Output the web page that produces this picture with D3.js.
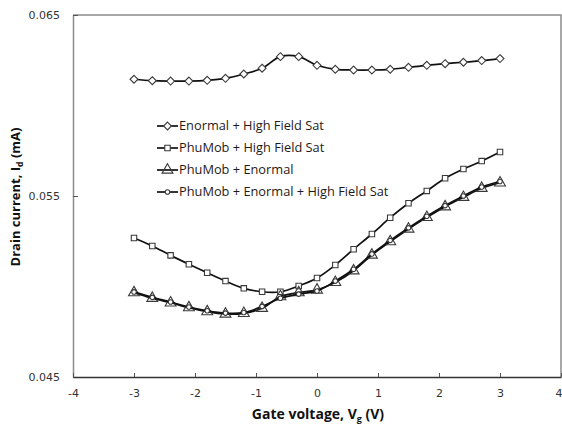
<!DOCTYPE html>
<html>
<head>
<meta charset="utf-8">
<script src="https://cdn.jsdelivr.net/npm/d3@7"></script>
<style>
  html, body { margin: 0; padding: 0; background: #fff; }
  svg { display: block; }
</style>
</head>
<body>
<svg id="chart" width="562" height="428"></svg>
<script>
// Gate voltage sweep (V)
const gateVoltage = [-3, -2.7, -2.4, -2.1, -1.8, -1.5, -1.2, -0.9, -0.6, -0.3, 0,
                     0.3, 0.6, 0.9, 1.2, 1.5, 1.8, 2.1, 2.4, 2.7, 3];

// Drain current (mA) for each mobility model combination
const enormalHighField = [0.06145, 0.06137, 0.06135, 0.06135, 0.06139, 0.06150, 0.06174,
                          0.06206, 0.06270, 0.06270, 0.06222, 0.06200, 0.06196, 0.06196,
                          0.06200, 0.06211, 0.06222, 0.06231, 0.06239, 0.06248, 0.06259];
const phuMobHighField = [0.05268, 0.05224, 0.05172, 0.05123, 0.05076, 0.05030, 0.04990,
                         0.04971, 0.04971, 0.05003, 0.05047, 0.05119, 0.05206, 0.05290,
                         0.05380, 0.05460, 0.05528, 0.05598, 0.05649, 0.05693, 0.05743];
const phuMobEnormal = [0.04966, 0.04935, 0.04910, 0.04883, 0.04861, 0.04848, 0.04852,
                       0.04880, 0.04944, 0.04966, 0.04981, 0.05023, 0.05087, 0.05174,
                       0.05248, 0.05318, 0.05382, 0.05441, 0.05493, 0.05543, 0.05573];
const phuMobEnormalHighField = [0.04970, 0.04940, 0.04914, 0.04887, 0.04866, 0.04853, 0.04856,
                                0.04890, 0.04935, 0.04958, 0.04975, 0.05030, 0.05095, 0.05180,
                                0.05255, 0.05324, 0.05388, 0.05447, 0.05500, 0.05550, 0.05580];

const seriesNames = ["Enormal + High Field Sat", "PhuMob + High Field Sat",
                     "PhuMob + Enormal", "PhuMob + Enormal + High Field Sat"];
const xTicks = [-4, -3, -2, -1, 0, 1, 2, 3, 4];
const yTicks = [0.045, 0.055, 0.065];

const series = [
  { name: seriesNames[0], values: enormalHighField, marker: "diamond" },
  { name: seriesNames[1], values: phuMobHighField, marker: "square" },
  { name: seriesNames[2], values: phuMobEnormal, marker: "triangle" },
  { name: seriesNames[3], values: phuMobEnormalHighField, marker: "circle" }
];

const svg = d3.select("#chart");
const plot = { left: 73, right: 561, top: 15, bottom: 377 };

const x = d3.scaleLinear().domain([-4, 4]).range([plot.left, plot.right]);
const y = d3.scaleLinear().domain([0.045, 0.065]).range([plot.bottom, plot.top]);

// Plot frame (top and right edges)
svg.append("path")
  .attr("d", `M${plot.left},${plot.top}H${plot.right}V${plot.bottom}`)
  .attr("fill", "none").attr("stroke", "#8c8c8c").attr("stroke-width", 1.5);

// Y axis
const yAxis = svg.append("g").attr("transform", `translate(${plot.left},0)`)
  .call(d3.axisLeft(y).tickValues(yTicks).tickFormat(d3.format(".3f")).tickSizeInner(-5).tickSizeOuter(0).tickPadding(13));
yAxis.select(".domain").attr("stroke", "#8c8c8c").attr("stroke-width", 1.5);
yAxis.selectAll(".tick line").attr("stroke", "#555");
yAxis.selectAll("text").attr("font-family", "DejaVu Sans").attr("font-size", 11).attr("fill", "#333");

// X axis
const xAxis = svg.append("g").attr("transform", `translate(0,${plot.bottom})`)
  .call(d3.axisBottom(x).tickValues(xTicks).tickFormat(d3.format("d")).tickSizeInner(-4).tickSizeOuter(0).tickPadding(12));
xAxis.select(".domain").attr("stroke", "#333").attr("stroke-width", 1.5);
xAxis.selectAll(".tick line").attr("stroke", "#555");
xAxis.selectAll("text").attr("font-family", "DejaVu Sans").attr("font-size", 11).attr("fill", "#333")
  .text(d => d < 0 ? "-" + Math.abs(d) : d);
// The last label sits on the right edge; keep it inside the frame
xAxis.selectAll(".tick").filter(d => d === 4).select("text")
  .attr("text-anchor", "end").attr("x", 1);

// Axis titles
const xTitle = svg.append("text")
  .attr("x", 318).attr("y", 419)
  .attr("text-anchor", "middle")
  .attr("font-family", "Open Sans").attr("font-weight", "bold").attr("font-size", 14).attr("fill", "#111");
xTitle.append("tspan").text("Gate voltage, V");
xTitle.append("tspan").attr("font-size", 9).attr("dy", 3).text("g");
xTitle.append("tspan").attr("dy", -3).text(" (V)");

const yTitle = svg.append("text")
  .attr("transform", "translate(20,197) rotate(-90)")
  .attr("text-anchor", "middle")
  .attr("font-family", "Open Sans").attr("font-weight", "bold").attr("font-size", 13).attr("fill", "#111");
yTitle.append("tspan").text("Drain current, I");
yTitle.append("tspan").attr("font-size", 8.5).attr("dy", 3).text("d");
yTitle.append("tspan").attr("dy", -3).text(" (mA)");

// Marker shapes
const markerSymbols = {
  diamond: d3.symbol().type(d3.symbolDiamond2).size(40),
  square: d3.symbol().type(d3.symbolSquare2).size(38),
  triangle: d3.symbol().type(d3.symbolTriangle2).size(85),
  circle: d3.symbol().type(d3.symbolCircle).size(16)
};

const line = d3.line()
  .x((d, i) => x(gateVoltage[i]))
  .y(d => y(d))
  .curve(d3.curveCatmullRom.alpha(0.5));

series.forEach(s => {
  const g = svg.append("g");
  g.append("path")
    .attr("d", line(s.values))
    .attr("fill", "none").attr("stroke", "#111").attr("stroke-width", 1.7);
  g.selectAll("path.marker").data(s.values).join("path")
    .attr("class", "marker")
    .attr("transform", (d, i) => `translate(${x(gateVoltage[i])},${y(d)})`)
    .attr("d", markerSymbols[s.marker])
    .attr("fill", s.marker === "triangle" ? "none" : "#fff")
    .attr("stroke", "#3a3a3a").attr("stroke-width", 1.1);
});

// Legend
const legend = svg.append("g").attr("transform", "translate(157,126)");
series.forEach((s, i) => {
  const row = legend.append("g").attr("transform", `translate(0,${i * 22})`);
  row.append("line").attr("x1", 0).attr("x2", 21).attr("y1", 0).attr("y2", 0)
    .attr("stroke", "#111").attr("stroke-width", 1.7);
  row.append("path").attr("transform", "translate(10.5,0)")
    .attr("d", markerSymbols[s.marker])
    .attr("fill", s.marker === "triangle" ? "none" : "#fff")
    .attr("stroke", "#3a3a3a").attr("stroke-width", 1.1);
  row.append("text").attr("x", 22).attr("y", 0).attr("dy", "0.35em")
    .attr("font-family", "Open Sans").attr("font-size", 12.8).attr("font-weight", 500).attr("fill", "#1f1a17")
    .text(s.name);
});
</script>
</body>
</html>
